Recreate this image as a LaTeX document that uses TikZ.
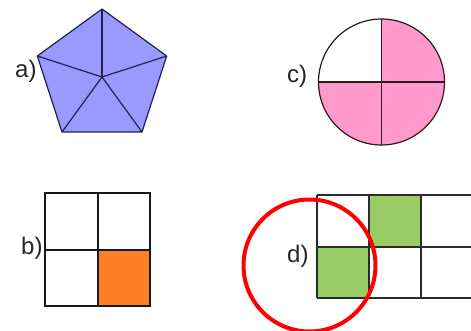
\documentclass[tikz,border=0pt]{standalone}
\usepackage{fontspec}
\setmainfont{Liberation Sans}
\usetikzlibrary{calc}
\definecolor{penfill}{HTML}{9999FF}
\definecolor{penline}{HTML}{22224A}
\definecolor{pinkfill}{HTML}{FF99CC}
\definecolor{circline}{HTML}{2A1A22}
\definecolor{orangefill}{HTML}{FF7F27}
\definecolor{greenfill}{HTML}{99CC66}
\definecolor{gridline}{HTML}{2B2B2B}
\tikzset{
  lbl/.style={anchor=base west, inner sep=0pt, font=\fontsize{24}{28}\selectfont, text=black!85},
  penedge/.style={draw=penline, line width=1.2pt, line join=round},
  circedge/.style={draw=circline, line width=1.2pt},
  gridb/.style={draw=black!90, line width=1.8pt},
  gridd/.style={draw=gridline, line width=1.8pt},
  ring/.style={draw=red, line width=4pt}
}
\begin{document}
\begin{tikzpicture}[x=1pt,y=-1pt]
\useasboundingbox (0,0) rectangle (471,330);
\clip (0,0) rectangle (471,330);
\fill[white] (0,0) rectangle (471,330);
% a) pentagon
\coordinate (pc) at (102,77);
\coordinate (p1) at (102,9);
\coordinate (p2) at (166.7,56);
\coordinate (p3) at (142,132);
\coordinate (p4) at (62,132);
\coordinate (p5) at (37.3,56);
\fill[penfill] (p1) -- (p2) -- (p3) -- (p4) -- (p5) -- cycle;
\draw[penedge] (p1) -- (p2) -- (p3) -- (p4) -- (p5) -- cycle;
\foreach \v in {p1,p2,p3,p4,p5} \draw[penedge] (pc) -- (\v);
\node[lbl] (la) at (15,77) {a)};
% c) circle
\coordinate (cc) at (381.5,82);
\fill[pinkfill] (cc) circle (63);
\fill[white] (cc) -- ++(-63,0) arc (180:270:63) -- cycle;
\draw[circedge] (cc) circle (63);
\draw[circedge] ($(cc)+(-63,0)$) -- ($(cc)+(63,0)$);
\draw[circedge] ($(cc)+(0,-63)$) -- ($(cc)+(0,63)$);
\node[lbl] (lc) at (287,82) {c)};
% b) grid
\fill[orangefill] (98,250) rectangle (150,306);
\draw[gridb] (45,193) rectangle (150,306);
\draw[gridb] (98,193) -- (98,306);
\draw[gridb] (45,250) -- (150,250);
\node[lbl] (lb) at (21,254) {b)};
% d) grid
\fill[greenfill] (369,195) rectangle (421,247);
\fill[greenfill] (317,247) rectangle (369,298);
\draw[gridd] (317,195) -- (480,195);
\draw[gridd] (317,247) -- (480,247);
\draw[gridd] (317,298) -- (480,298);
\draw[gridd] (317,195) -- (317,298);
\draw[gridd] (369,195) -- (369,298);
\draw[gridd] (421,195) -- (421,298);
\node[lbl] (ld) at (287,262) {d)};
\draw[ring] (309.5,265.5) circle (66);
\end{tikzpicture}
\end{document}
